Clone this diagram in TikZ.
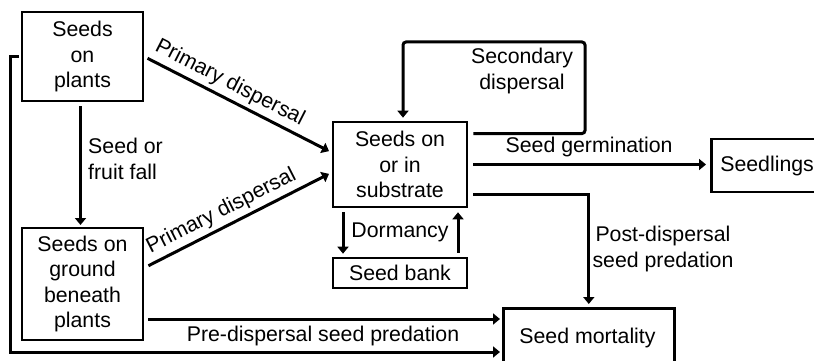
\documentclass[tikz,border=0pt]{standalone}
\usepackage{fontspec}
\setmainfont{Liberation Sans}
\usepackage{tikz}
\usetikzlibrary{positioning}
\usetikzlibrary{arrows.meta}
\tikzset{x=1pt, y=-1pt,
every node/.style={ % Sets the font for all text
font=\fontsize{21.3}{25.5}\selectfont},
box/.style={ % Sets the properties for each box
draw,
line width=2pt,
align=center,
inner sep=0pt},
thickbox/.style={box, line width=2.6pt}, % Boxes on the right are drawn heavier
flow/.style={ % Sets the properties for each arrow
draw,
line width=3pt,
-{Triangle[length=7pt,width=11pt]}},
lbl/.style={align=center, inner sep=0pt}}

\begin{document}
\begin{tikzpicture}
\useasboundingbox (0,0) rectangle (814,361);
\node[box, minimum width=121, minimum height=89] (plants) at (82.5,56.5) {Seeds\\on\\plants};
\node[box, minimum width=121, minimum height=112] (ground) at (82.5,284) {Seeds on\\ground\\beneath\\plants};
\node[thickbox, minimum width=134, minimum height=85] (substrate) at (400,164.5) {Seeds on\\or in\\substrate};
\node[thickbox, minimum width=134, minimum height=30] (bank) at (400,273) {Seed bank};
\node[thickbox, anchor=west, minimum height=53, inner xsep=9pt] (seedlings) at (710,165.5) {Seedlings};
\node[thickbox, anchor=north west, minimum width=171, minimum height=70] (mortality) at (502,307) {};
\node[lbl] (mortext) at (587.5,338) {Seed mortality};
\coordinate (corner) at (10,352);
\draw[flow, shorten <=4pt, shorten >=3pt] (plants.east) -- node[lbl, sloped, above=4pt, pos=0.42] {Primary dispersal} ([yshift=12pt]substrate.west);
\draw[flow, shorten <=5pt, shorten >=3pt] ([yshift=16pt]ground.east) -- node[lbl, sloped, above=4pt, pos=0.45] {Primary dispersal} ([yshift=-8pt]substrate.west);
\draw[flow, shorten <=4pt, shorten >=2pt] ([xshift=-2pt]plants.south) -- ([xshift=-2pt]ground.north);
\node[lbl, anchor=west, align=left] (fall) at (88,159) {Seed or\\fruit fall};
\draw[flow, shorten <=5pt, shorten >=3pt, rounded corners=3pt] ([yshift=31pt]substrate.east) -- (585,133.5) -- (585,42) -| ([xshift=3pt]substrate.north);
\node[lbl] (second) at (522,71) {Secondary\\dispersal};
\draw[flow, shorten <=5pt, shorten >=4pt] (substrate.east) -- node[lbl, above=6pt] {Seed germination} (substrate.east -| seedlings.west);
\draw[flow, shorten <=5pt, shorten >=3pt] ([yshift=-29.5pt]substrate.east) -| (mortality.north);
\node[lbl] (post) at (663,249) {Post-dispersal\\seed predation};
\draw[flow, shorten <=4pt, shorten >=3pt] ([xshift=-57pt]substrate.south) -- ([xshift=-57pt]bank.north);
\draw[flow, shorten <=4pt, shorten >=4pt] ([xshift=58pt]bank.north) -- ([xshift=58pt]substrate.south);
\node[lbl] (dorm) at (400,232) {Dormancy};
\draw[flow, shorten <=4pt, shorten >=2pt] ([yshift=-35pt]ground.east) -- node[lbl, below=6pt] {Pre-dispersal seed predation} ([yshift=-35pt]ground.east -| mortality.west);
\draw[flow, shorten <=2pt, shorten >=2pt] (plants.west) -- (plants.west -| corner) -- (corner) -- (corner -| mortality.west);
\end{tikzpicture}
\end{document}
